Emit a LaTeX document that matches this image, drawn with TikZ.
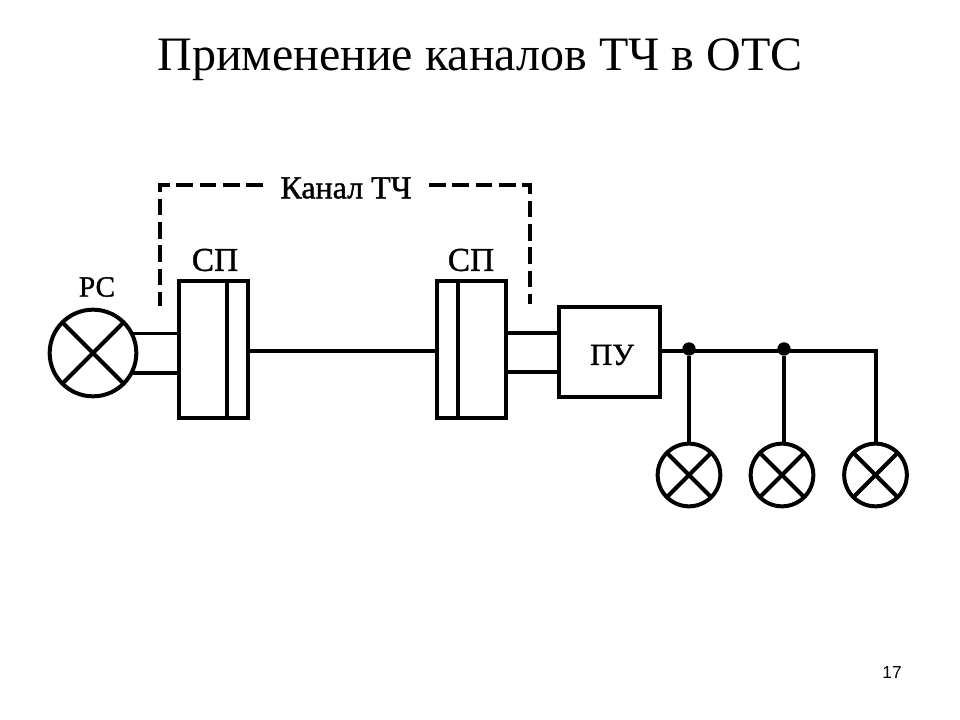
\documentclass[tikz,border=0pt]{standalone}
\usepackage{fontspec}
\setmainfont{Liberation Serif}
\newfontfamily\numfont{Liberation Sans}
\newfontfamily\scanfont[FakeBold=1.2]{Liberation Serif}
\tikzset{
  wire/.style={line width=3pt},
  thinwire/.style={line width=2.4pt},
  dashline/.style={line width=2.6pt, dash pattern=on 12.5pt off 5pt},
  unitbox/.style={draw, rectangle, line width=3pt, outer sep=0pt, inner sep=0pt},
  lamp/.style={draw, circle, line width=3pt, outer sep=0pt, inner sep=0pt, minimum size=#1,
    path picture={
      \draw[line width=3pt] (path picture bounding box.center) +(45:#1) -- +(225:#1);
      \draw[line width=3pt] (path picture bounding box.center) +(135:#1) -- +(315:#1);
    }},
  lbl/.style={inner sep=0pt, font=\scanfont\fontsize{#1}{26}\selectfont},
  junction/.style={circle, fill, inner sep=0pt, minimum size=10pt}
}
\begin{document}
\begin{tikzpicture}[x=0.75pt, y=-0.75pt]
  \useasboundingbox (0,0) rectangle (960,720);

  \node[font=\fontsize{36}{40}\selectfont, inner sep=0pt, anchor=base] (title) at (480,71) {Применение каналов ТЧ в ОТС};
  \node[font=\numfont\fontsize{13}{15}\selectfont, inner sep=0pt] (pagenum) at (892,673) {17};

  \node[lamp=65pt] (rs) at (93,353) {};
  \node[unitbox, minimum width=51.75pt, minimum height=102.75pt] (sp1) at (213.5,349.5) {};
  \node[unitbox, minimum width=51.75pt, minimum height=102.75pt] (sp2) at (471.5,349.5) {};
  \node[unitbox, minimum width=75.75pt, minimum height=67.5pt] (pu) at (609.5,352) {};

  \node[lamp=47pt] (l1) at (689,475) {};
  \node[lamp=47pt] (l2) at (782,475) {};
  \node[lamp=47pt] (l3) at (875.5,475) {};

  \node[lbl=22] (rslabel) at (97,287) {РС};
  \node[lbl=25] (sp1label) at (215,260) {СП};
  \node[lbl=25] (sp2label) at (471,260) {СП};
  \node[lbl=23] (pulabel) at (612,355) {ПУ};
  \node[lbl=24, inner xsep=13pt] (channel) at (346,188) {Канал ТЧ};

  \coordinate (div1) at (227,351);
  \coordinate (div2) at (458,351);
  \coordinate (dashl) at (160,306);
  \coordinate (dashr) at (530,304);
  \coordinate (wireup) at (0,333);
  \coordinate (wiredown) at (0,372);
  \coordinate (bus) at (0,351);
  \coordinate (turn) at (875.5,351);
  \node[junction] (j1) at (689,349) {};
  \node[junction] (j2) at (784,349) {};

  % dashed channel bracket
  \draw[dashline] (channel.west |- 0,185) -- (dashl |- 0,185) -- (dashl);
  \draw[dashline] (channel.east |- 0,185) -- (dashr |- 0,185) -- (dashr);

  \path[wire] (div1 |- sp1.north) edge (div1 |- sp1.south);
  \path[wire] (div2 |- sp2.north) edge (div2 |- sp2.south);

  \path[thinwire] (rs.27) edge (rs.27 -| sp1.west);
  \path[wire] (rs.-27) edge (rs.-27 -| sp1.west);
  \path[thinwire] (sp2.east |- wireup) edge (pu.west |- wireup);
  \path[wire] (sp2.east |- wiredown) edge (pu.west |- wiredown);
  \path[wire] (sp1.east |- bus) edge (sp2.west |- bus);

  \draw[wire] (pu.east |- bus) -- (turn) -- (l3.north);
  \path[thinwire] (j1) edge (l1.north);
  \path[wire] (j2) edge (j2 |- l2.north);
\end{tikzpicture}
\end{document}
